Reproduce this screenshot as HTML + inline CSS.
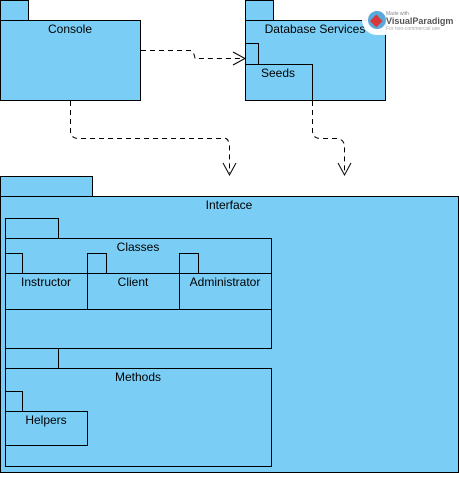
<!DOCTYPE html>
<html><head><meta charset="utf-8"><style>
body{margin:0;width:459px;height:473px;overflow:hidden;background:#fff}
svg text{font-family:"Liberation Sans",sans-serif;font-size:12px;fill:#000}
</style></head><body>
<svg width="459" height="473" viewBox="0 0 459 473">
<g fill="#7acdf4" stroke="#000" stroke-width="1">
<rect x="0.5" y="0.5" width="28" height="20"/>
<rect x="0.5" y="20.5" width="140" height="80"/>
<rect x="245.5" y="0.5" width="28" height="20"/>
<rect x="245.5" y="20.5" width="140" height="80"/>
<rect x="245.5" y="43.5" width="13" height="21"/>
<rect x="245.5" y="64.5" width="67" height="36"/>
<rect x="0.5" y="176.5" width="92" height="20"/>
<rect x="0.5" y="196.5" width="458" height="276"/>
<rect x="5.5" y="218.5" width="53" height="20"/>
<rect x="5.5" y="238.5" width="266" height="110"/>
<rect x="5.5" y="253.5" width="17" height="20"/>
<rect x="5.5" y="273.5" width="82" height="36"/>
<rect x="87.5" y="253.5" width="19" height="20"/>
<rect x="87.5" y="273.5" width="92" height="36"/>
<rect x="179.5" y="253.5" width="19" height="20"/>
<rect x="179.5" y="273.5" width="92" height="36"/>
<rect x="5.5" y="348.5" width="53" height="20"/>
<rect x="5.5" y="368.5" width="266" height="98"/>
<rect x="5.5" y="391.5" width="17" height="20"/>
<rect x="5.5" y="411.5" width="82" height="34"/>
</g>
<g fill="none" stroke="#000" stroke-width="1" stroke-dasharray="5,4">
<path d="M141 50.5 H190 Q194 51 195 58.5 H243"/>
<path d="M70.5 101 V132 Q71 138 78 138.5 H226 Q229 140 229.5 146 V173"/>
<path d="M312.5 101 V132 Q313 138 320 138.5 H338 Q344 140 344.5 146 V173"/>
</g>
<g fill="none" stroke="#000" stroke-width="1">
<path d="M233 52 L245 58.5 L233 65"/>
<path d="M223 163 L229.5 175 L236 163"/>
<path d="M338 163 L344.5 175 L351 163"/>
</g>
<text x="70" y="33" text-anchor="middle">Console</text>
<text x="315" y="33" text-anchor="middle">Database Services</text>
<text x="278" y="77" text-anchor="middle">Seeds</text>
<text x="229" y="209" text-anchor="middle">Interface</text>
<text x="138" y="251" text-anchor="middle">Classes</text>
<text x="46" y="286" text-anchor="middle">Instructor</text>
<text x="133" y="286" text-anchor="middle">Client</text>
<text x="225" y="286" text-anchor="middle">Administrator</text>
<text x="138" y="381" text-anchor="middle">Methods</text>
<text x="46" y="424" text-anchor="middle">Helpers</text>
<rect x="362" y="5" width="93" height="30" rx="15" fill="#fff" opacity="0.95"/>
<circle cx="377" cy="20" r="9" fill="#5aa9dc"/>
<rect x="372" y="17" width="9" height="9" fill="#d9383a" transform="rotate(45 377 21)"/>
<text x="386" y="15" style="font-size:5px;fill:#888">Made with</text>
<text x="386" y="24" style="font-size:9px;font-weight:bold;fill:#555">VisualParadigm</text>
<text x="386" y="30" style="font-size:5px;fill:#aaa">For non-commercial use</text>
</svg>
</body></html>
